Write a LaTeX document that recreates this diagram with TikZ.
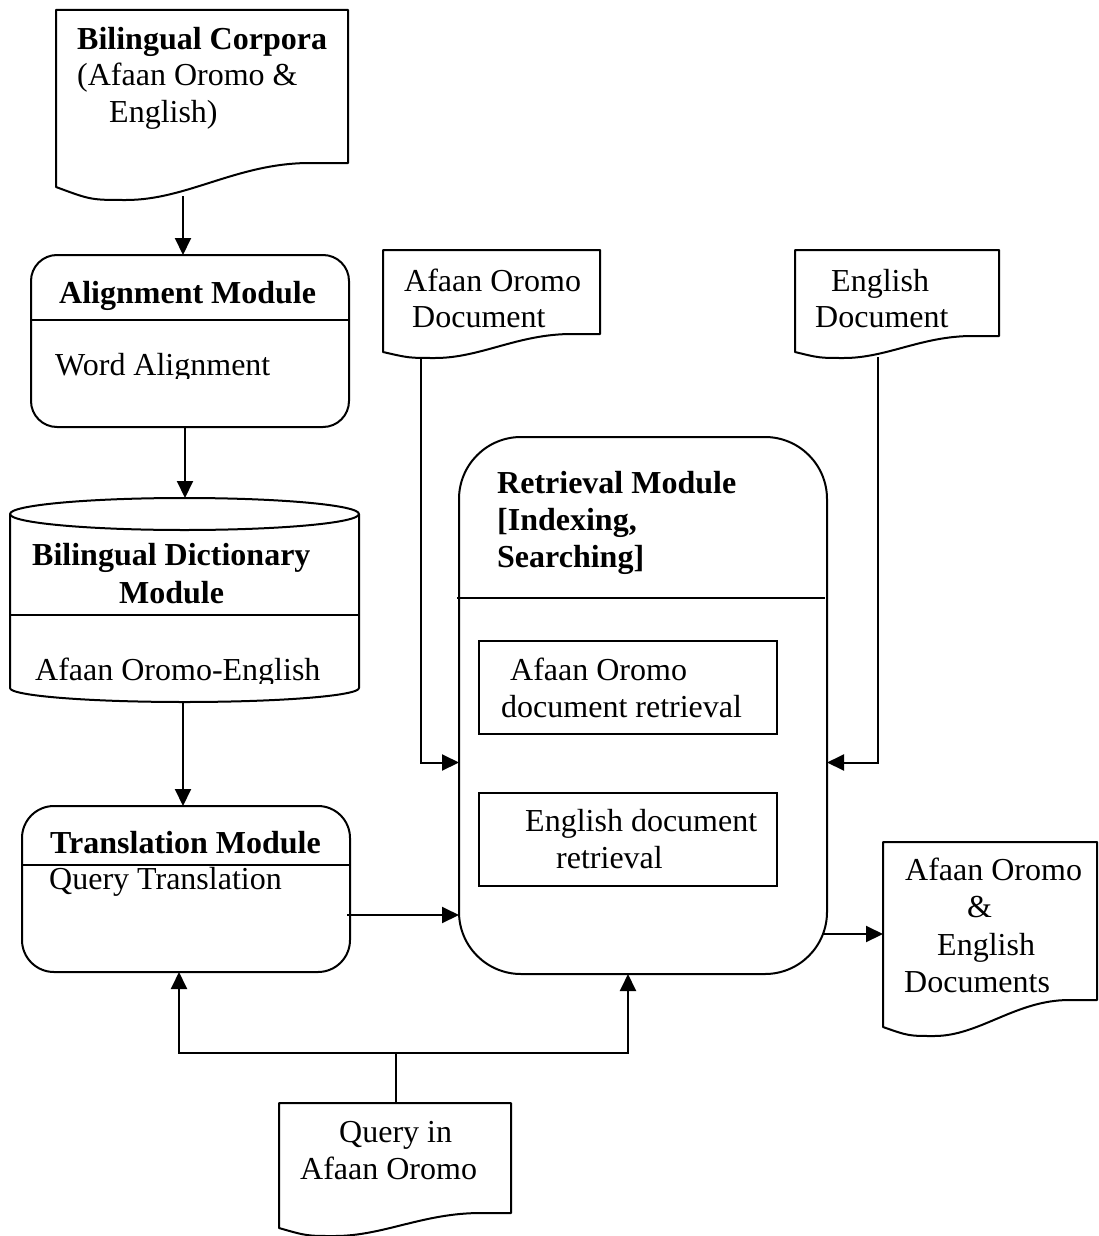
\documentclass[tikz,border=0pt]{standalone}
\usepackage{fontspec}
\setmainfont{Liberation Serif}
\usetikzlibrary{arrows.meta}
\tikzset{
  ln/.style={line width=2pt, line join=round},
  plain/.style={line width=2pt},
  conn/.style={line width=2pt, -{Triangle[length=17pt,width=16pt]}},
  rbox/.style={draw, line width=2pt, inner sep=0pt, outer sep=0pt},
  txt/.style={anchor=base west, inner sep=0pt, font=\fontsize{32}{36}\selectfont},
}
% document shape: x0, x1, ytop, y right bottom, y left bottom, y of dip
\newcommand\docpath[6]{%
  \draw[ln] (#1,#3) -- (#2,#3) -- (#2,#4) -- ({#2-0.13*(#2-#1)},#4)
    .. controls ({#2-0.38*(#2-#1)},#4) and ({#1+0.45*(#2-#1)},#6) .. ({#1+0.24*(#2-#1)},#6)
    .. controls ({#1+0.12*(#2-#1)},#6) .. (#1,#5) -- cycle;}
\begin{document}
\begin{tikzpicture}[x=1pt,y=-1pt]
\useasboundingbox (0,0) rectangle (1098,1236);

% ---------- Bilingual corpora document
\docpath{56}{348}{10}{163}{187}{200}
\coordinate (corpB) at (183,196);
\node[txt] (corp1) at (77,50) {\bfseries Bilingual Corpora};
\node[txt] (corp2) at (77,86) {(Afaan Oromo \&};
\node[txt] (corp3) at (109,123) {English)};

% ---------- Alignment module
\node[rbox, rounded corners=26pt, minimum width=318pt, minimum height=172pt] (align) at (190,341) {};
\draw[plain] (31,320) -- (349,320);
\node[txt] (al1) at (59,303) {\bfseries Alignment Module};
\begin{scope}
  \clip (0,0) rectangle (1098,378);
  \node[txt] (al2) at (55,375) {Word Alignment};
\end{scope}

% ---------- Bilingual dictionary (cylinder)
\draw[ln] (10,514) -- (10,688) arc[start angle=180, end angle=0, x radius=174.5, y radius=14] -- (359,514);
\draw[ln] (184.5,514) ellipse[x radius=174.5, y radius=16];
\draw[plain] (10,615) -- (359,615);
\coordinate (dictT) at (185,498);
\coordinate (dictB) at (183,702);
\node[txt] (di1) at (32,565) {\bfseries Bilingual Dictionary};
\node[txt] (di2) at (119,603) {\bfseries Module};
\begin{scope}
  \clip (0,0) rectangle (1098,683);
  \node[txt] (di3) at (35,680) {Afaan Oromo-English};
\end{scope}

% ---------- Translation module
\node[rbox, rounded corners=32pt, minimum width=328pt, minimum height=166pt] (trans) at (186,889) {};
\draw[plain] (22,865) -- (350,865);
\node[txt] (tr1) at (50,853) {\bfseries Translation Module};
\node[txt] (tr2) at (49,889) {Query Translation};
\coordinate (tq) at (347,915);

% ---------- Afaan Oromo / English documents
\docpath{383}{600}{250}{334}{352}{358}
\coordinate (aoB) at (421,357);
\node[txt] (ao1) at (404,291) {Afaan Oromo};
\node[txt] (ao2) at (412,327) {Document};

\docpath{795}{999}{250}{336}{352}{358}
\coordinate (enB) at (878,357);
\node[txt] (en1) at (831,291) {English};
\node[txt] (en2) at (815,327) {Document};

% ---------- Retrieval module
\node[rbox, rounded corners=62pt, minimum width=368pt, minimum height=537pt] (retr) at (643,705.5) {};
\draw[plain] (457,598) -- (825,598);
\node[txt] (re1) at (497,493) {\bfseries Retrieval Module};
\node[txt] (re2) at (497,530) {\bfseries [Indexing,};
\node[txt] (re3) at (497,567) {\bfseries Searching]};

\node[rbox, minimum width=298pt, minimum height=93pt] (aodr) at (628,687.5) {};
\node[txt] (ir1) at (510,680) {Afaan Oromo};
\node[txt] (ir2) at (501,717) {document retrieval};

\node[rbox, minimum width=298pt, minimum height=93pt] (endr) at (628,839.5) {};
\node[txt] (er1) at (525,831) {English document};
\node[txt] (er2) at (556,868) {retrieval};

\coordinate (rOut) at (822,934);

% ---------- Output document
\docpath{883}{1097}{842}{1000}{1027}{1036}
\coordinate (outL) at (883,934);
\node[txt] (ou1) at (905,880) {Afaan Oromo};
\node[txt] (ou2) at (967,917) {\&};
\node[txt] (ou3) at (937,955) {English};
\node[txt] (ou4) at (904,992) {Documents};

% ---------- Query document
\docpath{279}{511}{1103}{1213}{1228}{1236}
\coordinate (qT) at (396,1103);
\coordinate (bus) at (396,1053);
\node[txt] (q1) at (339,1142) {Query in};
\node[txt] (q2) at (300,1179) {Afaan Oromo};

% ---------- Connectors
\draw[conn] (corpB) -- (corpB |- align.north);
\draw[conn] (dictT |- align.south) -- (dictT);
\draw[conn] (dictB) -- (dictB |- trans.north);
\draw[conn] (tq) -- (tq -| retr.west);
\draw[conn] (aoB) |- ([yshift=-57pt]retr.west);
\draw[conn] (enB) |- ([yshift=-57pt]retr.east);
\draw[conn] (rOut) -- (outL);
\draw[plain] (qT) -- (bus);
\draw[conn] (bus) -| ([xshift=-7pt]trans.south);
\draw[conn] (bus) -| ([xshift=-15pt]retr.south);
\end{tikzpicture}
\end{document}
